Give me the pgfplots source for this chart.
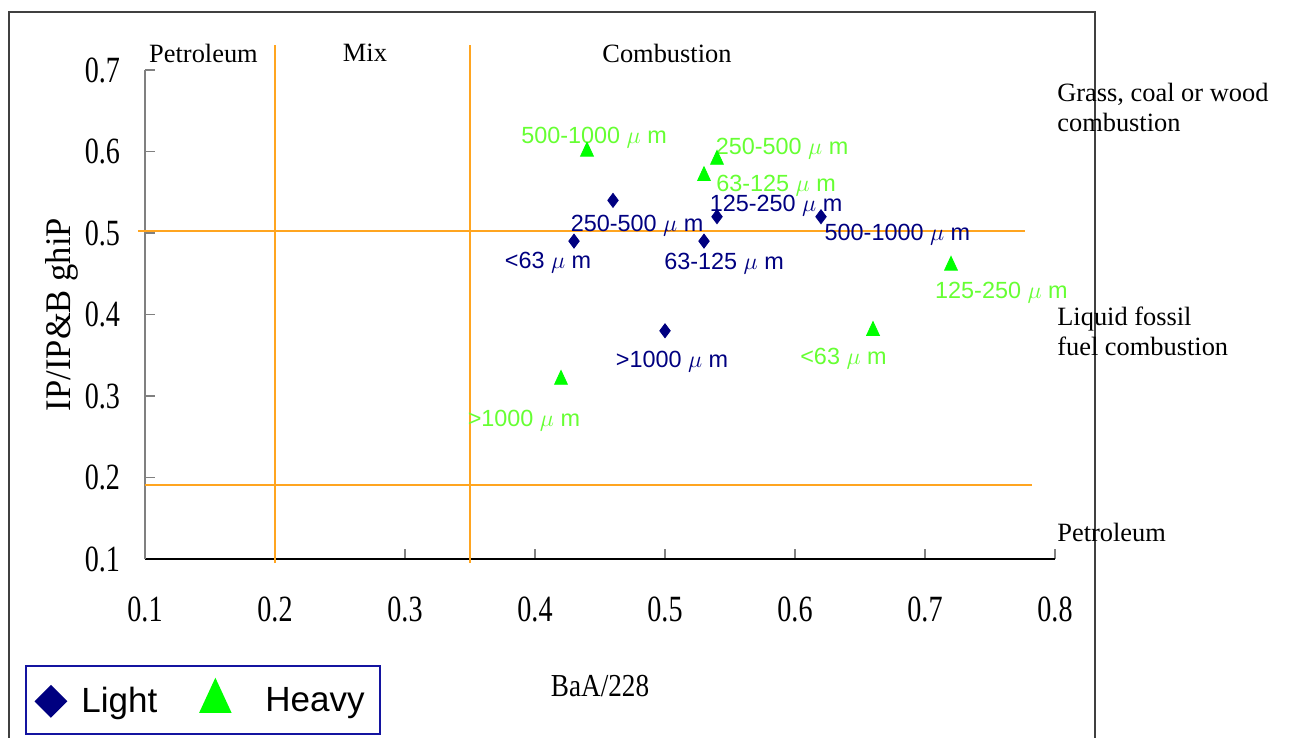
\documentclass[border=0pt]{standalone}
\usepackage{pgfplots}
\pgfplotsset{compat=1.18}
\usepackage{fontspec}
\setmainfont{Liberation Serif}
\setsansfont{Liberation Sans}
\usepackage{graphicx}
\definecolor{navyc}{RGB}{0,0,128}
\definecolor{greenm}{RGB}{0,255,0}
\definecolor{greent}{RGB}{102,255,51}
\definecolor{orl}{RGB}{255,165,32}
\definecolor{legb}{RGB}{20,20,160}
\newcommand{\annot}{\fontsize{13.2}{15}\selectfont}
\newcommand{\dlab}{\sffamily\fontsize{11.7}{13}\selectfont}
\newcommand{\tk}[1]{\scalebox{0.76}[1]{#1}}
\begin{document}
\begin{tikzpicture}
\useasboundingbox (0,0) rectangle (644.5pt,369pt);
\draw[black!75, line width=0.75pt] (4.5pt,0) -- (4.5pt,363pt) -- (547.5pt,363pt) -- (547.5pt,0);
\begin{axis}[
  at={(72.5pt,89.5pt)}, anchor=south west,
  scale only axis, width=455pt, height=244.5pt,
  xmin=0.1, xmax=0.8, ymin=0.1, ymax=0.7,
  clip=false,
  axis x line*=bottom, axis y line*=left,
  x axis line style={black, line width=0.8pt, -},
  y axis line style={gray, line width=0.8pt, -},
  tick align=inside, major tick length=5pt,
  xtick style={gray, line width=0.8pt},
  ytick style={gray, line width=0.8pt},
  xtick={0.1,0.2,0.3,0.4,0.5,0.6,0.7,0.8},
  ytick={0.1,0.2,0.3,0.4,0.5,0.6,0.7},
  xticklabels={\tk{0.1},\tk{0.2},\tk{0.3},\tk{0.4},\tk{0.5},\tk{0.6},\tk{0.7},\tk{0.8}},
  yticklabels={\tk{0.1},\tk{0.2},\tk{0.3},\tk{0.4},\tk{0.5},\tk{0.6},\tk{0.7}},
  ticklabel style={font=\fontsize{18.5}{20}\selectfont},
  xticklabel shift=15.5pt, yticklabel shift=9pt,
  xlabel={\scalebox{0.85}[1]{BaA/228}},
  xlabel style={font=\fontsize{16}{18}\selectfont, at={(axis description cs:0.5,-0.26)}, anchor=center},
  ylabel={\scalebox{0.96}[1]{IP/IP\&B ghiP}},
  ylabel style={font=\fontsize{18}{20}\selectfont, at={(axis description cs:-0.0912,0.5)}, anchor=center},
  legend style={at={(axis description cs:-0.1319,-0.36)}, anchor=south west,
    draw=legb, line width=1pt, inner xsep=1.25pt, inner ysep=7.25pt,
    font=\sffamily\fontsize{17.5}{20}\selectfont, legend columns=2,
    /tikz/every even column/.style={column sep=0pt},
    /tikz/every odd column/.style={column sep=0pt}},
  legend cell align=left,
]
% reference lines
\addplot[orl, line width=1pt, no marks, forget plot] coordinates {(0.2,0.095) (0.2,0.731)};
\addplot[orl, line width=1pt, no marks, forget plot] coordinates {(0.35,0.095) (0.35,0.731)};
\addplot[orl, line width=1pt, no marks, forget plot] coordinates {(0.0946,0.503) (0.777,0.503)};
\addplot[orl, line width=1pt, no marks, forget plot] coordinates {(0.1,0.191) (0.782,0.191)};
% data
\addplot[only marks, mark=diamond*, mark size=3.5pt, color=navyc,
  legend image code/.code={\path (0pt,0pt) (23.5pt,0pt); \draw[only marks, mark=square*, mark size=5.3pt, mark options={rotate=45}, navyc] plot coordinates {(10.75pt,0pt)};}]
  coordinates {(0.43,0.49) (0.46,0.54) (0.54,0.52) (0.53,0.49) (0.62,0.52) (0.50,0.38)};
\addlegendentry{Light}
\addplot[only marks, mark=triangle*, mark size=3.7pt, mark options={yscale=1.25}, color=greenm,
  legend image code/.code={\path (0pt,0pt) (49pt,0pt); \draw[only marks, mark=triangle*, mark size=8.5pt, greenm] plot coordinates {(26.5pt,0pt)};}]
  coordinates {(0.44,0.60) (0.54,0.59) (0.53,0.57) (0.72,0.46) (0.66,0.38) (0.42,0.32)};
\addlegendentry{Heavy\kern4.5pt}
% region annotations
\node[font=\annot, inner sep=0pt] at (axis cs:0.145,0.7209) {Petroleum};
\node[font=\annot, inner sep=0pt] at (axis cs:0.2692,0.7209) {Mix};
\node[font=\annot, inner sep=0pt] at (axis cs:0.5015,0.7209) {Combustion};
\node[font=\annot, inner sep=0pt, anchor=west, align=left] at (axis cs:0.8015,0.654) {Grass, coal or wood\\combustion};
\node[font=\annot, inner sep=0pt, anchor=west, align=left] at (axis cs:0.8015,0.3798) {Liquid fossil\\fuel combustion};
\node[font=\annot, inner sep=0pt, anchor=west] at (axis cs:0.8015,0.132) {Petroleum};
% point labels: light
\node[font=\dlab, text=navyc, inner sep=0pt, anchor=base] at (axis cs:0.410,0.4565) {<63 $\mu$ m};
\node[font=\dlab, text=navyc, inner sep=0pt, anchor=base] at (axis cs:0.4785,0.5018) {250-500 $\mu$ m};
\node[font=\dlab, text=navyc, inner sep=0pt, anchor=base] at (axis cs:0.5854,0.5264) {125-250 $\mu$ m};
\node[font=\dlab, text=navyc, inner sep=0pt, anchor=base] at (axis cs:0.5454,0.4552) {63-125 $\mu$ m};
\node[font=\dlab, text=navyc, inner sep=0pt, anchor=base] at (axis cs:0.6788,0.4908) {500-1000 $\mu$ m};
\node[font=\dlab, text=navyc, inner sep=0pt, anchor=base] at (axis cs:0.5054,0.335) {>1000 $\mu$ m};
% point labels: heavy
\node[font=\dlab, text=greent, inner sep=0pt, anchor=base] at (axis cs:0.4454,0.6098) {500-1000 $\mu$ m};
\node[font=\dlab, text=greent, inner sep=0pt, anchor=base] at (axis cs:0.59,0.5965) {250-500 $\mu$ m};
\node[font=\dlab, text=greent, inner sep=0pt, anchor=base] at (axis cs:0.5854,0.5511) {63-125 $\mu$ m};
\node[font=\dlab, text=greent, inner sep=0pt, anchor=base] at (axis cs:0.7588,0.4196) {125-250 $\mu$ m};
\node[font=\dlab, text=greent, inner sep=0pt, anchor=base] at (axis cs:0.6373,0.3387) {<63 $\mu$ m};
\node[font=\dlab, text=greent, inner sep=0pt, anchor=base] at (axis cs:0.3915,0.2626) {>1000 $\mu$ m};
\end{axis}
\end{tikzpicture}
\end{document}
